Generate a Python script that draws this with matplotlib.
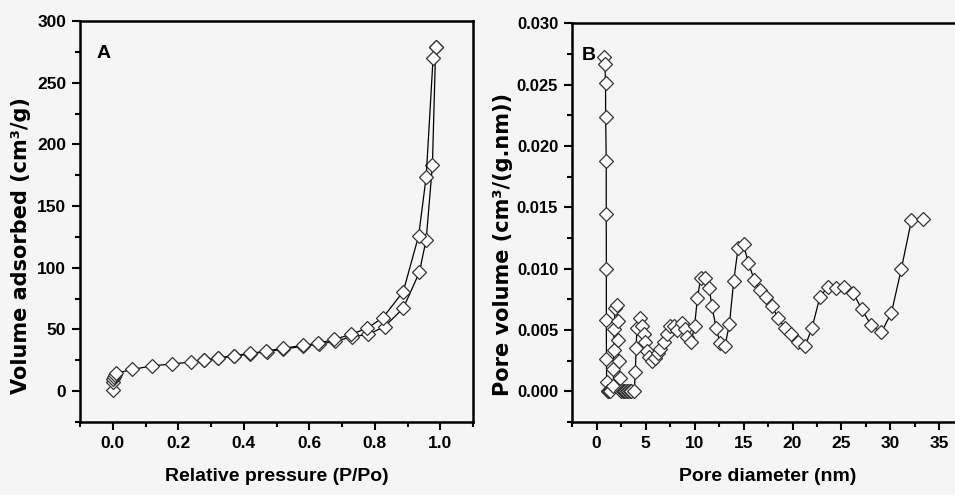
import matplotlib
matplotlib.use('Agg')
import matplotlib.pyplot as plt
from matplotlib.ticker import MultipleLocator, FormatStrFormatter

# --- panel A: N2 isotherm ---
ads_p = [0.0005, 0.001, 0.002, 0.004, 0.007, 0.010, 0.06, 0.12, 0.18, 0.24, 0.28, 0.32,
         0.37, 0.42, 0.47, 0.52, 0.58, 0.63, 0.68, 0.73, 0.78, 0.83, 0.887, 0.936,
         0.957, 0.976, 0.986]
ads_v = [1.0, 7.5, 10.0, 11.5, 13.0, 14.5, 17.6, 20.5, 22.0, 23.6, 25.0, 26.5,
         28.3, 30.2, 32.0, 34.0, 36.3, 38.0, 40.5, 44.0, 46.0, 52.3, 67.2, 96.2,
         122.8, 183.2, 278.6]
des_p = [0.986, 0.978, 0.957, 0.934, 0.887, 0.825, 0.777, 0.727, 0.677, 0.628,
         0.58, 0.52, 0.469, 0.419, 0.369, 0.32, 0.28]
des_v = [278.6, 269.7, 173.7, 126.0, 80.7, 59.6, 51.0, 46.0, 42.0, 38.8,
         37.1, 34.7, 32.5, 30.6, 28.7, 26.8, 25.2]

# --- panel B: pore size distribution ---
pore_d = [0.78, 0.85, 0.92, 0.93, 0.99, 0.99, 1.00, 1.00, 1.01, 1.03, 1.13, 1.22, 1.32, 1.42,
          1.73, 1.73, 1.77, 1.77, 1.90, 2.07, 2.14, 2.17, 2.28, 2.38,
          2.50, 2.65, 2.80, 2.95, 3.10, 3.25, 3.40, 3.55, 3.85,
          3.95, 4.05, 4.11, 4.46, 4.69, 4.80, 4.90, 5.13, 5.38, 5.64, 5.99, 6.26, 6.50,
          6.84, 7.18, 7.52, 7.86, 8.20, 8.71, 9.05, 9.22, 9.66, 10.00, 10.30, 10.64,
          11.09, 11.50, 11.77, 12.20, 12.60, 13.10, 13.56, 14.00, 14.45, 15.00, 15.50,
          16.12, 16.67, 17.25, 17.90, 18.54, 19.19, 19.84, 20.55, 21.30, 22.00, 22.80,
          23.60, 24.47, 25.30, 26.18, 27.06, 28.00, 29.07, 30.10, 31.10, 32.14, 33.33]
pore_v = [0.02724, 0.0267, 0.02512, 0.02238, 0.01875, 0.01447, 0.00994, 0.0058, 0.00263,
          0.00073, 0.0, 0.0, 0.0, 0.0,
          0.00046, 0.0018, 0.0034, 0.0051, 0.0068, 0.0070, 0.0057, 0.0042, 0.0025, 0.00106,
          0.0, 0.0, 0.0, 0.0, 0.0, 0.0, 0.0, 0.0, 0.0,
          0.00154, 0.00357, 0.00514, 0.0060, 0.0053, 0.00466, 0.00398, 0.0033, 0.00276,
          0.00249, 0.00268, 0.0031, 0.00345,
          0.00398, 0.00466, 0.0053, 0.0053, 0.0050, 0.00555, 0.0051, 0.0044, 0.00403,
          0.0053, 0.00764, 0.00927,
          0.00927, 0.0084, 0.00696, 0.0052, 0.00393, 0.00366, 0.00547, 0.0090, 0.0117,
          0.01198, 0.01043,
          0.00905, 0.00824, 0.0077, 0.00694, 0.00599, 0.0052, 0.00466, 0.00398, 0.00371,
          0.0052, 0.0077,
          0.00851, 0.00846, 0.00851, 0.00805, 0.0067, 0.00542, 0.0048, 0.00642, 0.00995,
          0.01396, 0.01401]

bg = '#f5f5f5'
tickfont = ['Liberation Sans', 'DejaVu Sans']
wide = ['DejaVu Sans']

fig = plt.figure(figsize=(9.55, 4.95), dpi=100, facecolor=bg)
axA = fig.add_axes([0.0838, 0.1475, 0.4115, 0.8101])
axB = fig.add_axes([0.599, 0.1475, 0.4104, 0.8055])

mk = dict(marker='D', ms=7, mfc='white', mec='#333333', mew=0.9,
          color='black', lw=0.9)

axA.plot(ads_p, ads_v, **mk)
axA.plot(des_p, des_v, **mk)
axB.plot(pore_d, pore_v, **mk)

def style(ax):
    ax.set_facecolor(bg)
    for s in ax.spines.values():
        s.set_linewidth(1.8)
    ax.tick_params(which='both', direction='out', top=False, right=False, width=1.5)
    ax.tick_params(which='major', length=6, pad=4)
    ax.tick_params(which='minor', length=3.5)
    for lab in ax.get_xticklabels() + ax.get_yticklabels():
        lab.set_fontfamily(tickfont)
        lab.set_fontweight('bold')
        lab.set_fontsize(12.5)

axA.set_xlim(-0.1, 1.1)
axA.set_ylim(-25, 300)
axA.xaxis.set_major_locator(MultipleLocator(0.2))
axA.xaxis.set_minor_locator(MultipleLocator(0.1))
axA.xaxis.set_major_formatter(FormatStrFormatter('%.1f'))
axA.yaxis.set_major_locator(MultipleLocator(50))
axA.yaxis.set_minor_locator(MultipleLocator(25))
style(axA)
axA.set_xlabel('Relative pressure (P/Po)', family=tickfont, fontweight='bold',
               fontsize=14, labelpad=12)
axA.set_ylabel('Volume adsorbed (cm³/g)', family=wide, fontweight='bold',
               fontsize=15, va='center')
axA.yaxis.set_label_coords(-0.150, 0.441)
axA.text(0.043, 0.94, 'A', transform=axA.transAxes, family=tickfont,
         fontweight='bold', fontsize=14, va='top')

axB.set_xlim(-2.5, 37.5)
axB.set_ylim(-0.0025, 0.030)
axB.xaxis.set_major_locator(MultipleLocator(5))
axB.xaxis.set_minor_locator(MultipleLocator(2.5))
axB.yaxis.set_major_locator(MultipleLocator(0.005))
axB.yaxis.set_minor_locator(MultipleLocator(0.0025))
axB.yaxis.set_major_formatter(FormatStrFormatter('%.3f'))
style(axB)
for lab in axB.get_yticklabels():
    lab.set_fontsize(12)
axB.set_xlabel('Pore diameter (nm)', family=tickfont, fontweight='bold',
               fontsize=14, labelpad=12)
axB.set_ylabel('Pore volume (cm³/(g.nm))', family=wide, fontweight='bold',
               fontsize=15, va='center')
axB.yaxis.set_label_coords(-0.176, 0.446)
axB.text(0.026, 0.94, 'B', transform=axB.transAxes, family=tickfont,
         fontweight='bold', fontsize=14, va='top')

fig.savefig('out.png', dpi=100, facecolor=bg)
